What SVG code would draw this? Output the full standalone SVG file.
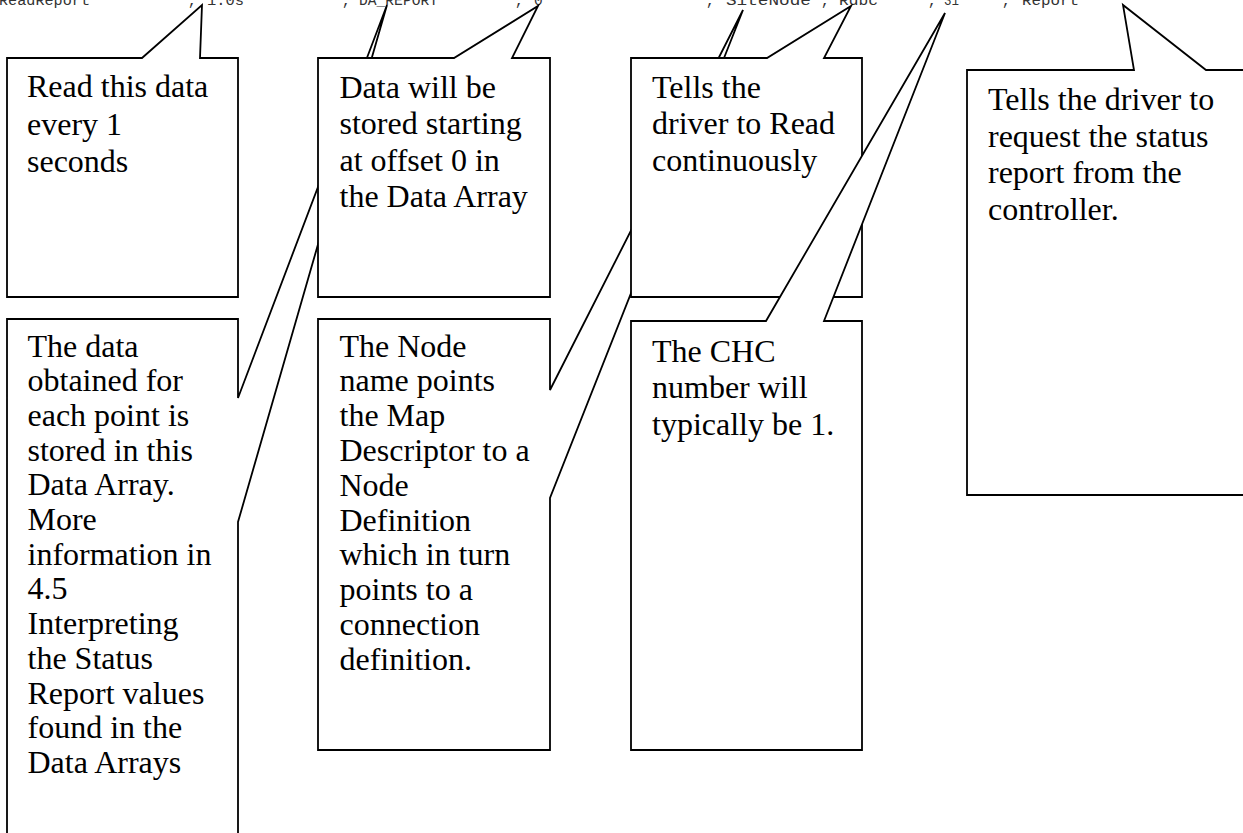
<svg xmlns="http://www.w3.org/2000/svg" width="1243" height="833" viewBox="0 0 1243 833">
<style>
.c{fill:#fff;stroke:#000;stroke-width:1.8;stroke-linejoin:miter}
.t{font-family:"Liberation Serif","Times New Roman",serif;font-size:32px;fill:#000}
.h{font-family:"Liberation Mono","Courier New",monospace;font-size:14.5px;fill:#333}
</style>
<rect width="1243" height="833" fill="#fff"/>
<g id="header">
<text class="h" y="4.5"><tspan x="-1" textLength="91" lengthAdjust="spacingAndGlyphs">ReadReport</tspan><tspan x="188">,</tspan><tspan x="207" textLength="37" lengthAdjust="spacingAndGlyphs">1.0s</tspan><tspan x="342">,</tspan><tspan x="359" textLength="79" lengthAdjust="spacingAndGlyphs">DA_REPORT</tspan><tspan x="515">,</tspan><tspan x="534">0</tspan><tspan x="706">,</tspan><tspan x="726" textLength="85" lengthAdjust="spacingAndGlyphs">SiteNode</tspan><tspan x="821">,</tspan><tspan x="839" textLength="39" lengthAdjust="spacingAndGlyphs">Rdbc</tspan><tspan x="928">,</tspan><tspan x="944" textLength="15" lengthAdjust="spacingAndGlyphs">31</tspan><tspan x="1002">,</tspan><tspan x="1022" textLength="57" lengthAdjust="spacingAndGlyphs">Report</tspan></text>
</g>
<g id="callout-data-array">
<path class="c" d="M7,319 H238 V398 L387,5 L238,522 V845 H7 Z"/>
<text class="t" x="27.5"><tspan x="27.5" y="356.5">The data</tspan><tspan x="27.5" y="391.2">obtained for</tspan><tspan x="27.5" y="425.9">each point is</tspan><tspan x="27.5" y="460.6">stored in this</tspan><tspan x="27.5" y="495.3">Data Array.</tspan><tspan x="27.5" y="530">More</tspan><tspan x="27.5" y="564.7">information in</tspan><tspan x="27.5" y="599.4">4.5</tspan><tspan x="27.5" y="634.1">Interpreting</tspan><tspan x="27.5" y="668.8">the Status</tspan><tspan x="27.5" y="703.5">Report values</tspan><tspan x="27.5" y="738.2">found in the</tspan><tspan x="27.5" y="772.9">Data Arrays</tspan></text>
</g>
<g id="callout-node">
<path class="c" d="M318,319 H550 V390 L743,10 L550,498 V750 H318 Z"/>
<text class="t"><tspan x="339.5" y="356.5">The Node</tspan><tspan x="339.5" y="391.3">name points</tspan><tspan x="339.5" y="426.1">the Map</tspan><tspan x="339.5" y="460.9">Descriptor to a</tspan><tspan x="339.5" y="495.7">Node</tspan><tspan x="339.5" y="530.5">Definition</tspan><tspan x="339.5" y="565.3">which in turn</tspan><tspan x="339.5" y="600.1">points to a</tspan><tspan x="339.5" y="634.9">connection</tspan><tspan x="339.5" y="669.7">definition.</tspan></text>
</g>
<g id="callout-scan">
<path class="c" d="M7,58 H142 L202,5 L200,58 H238 V297 H7 Z"/>
<text class="t"><tspan x="27" y="97">Read this data</tspan><tspan x="27" y="134.5">every 1</tspan><tspan x="27" y="172">seconds</tspan></text>
</g>
<g id="callout-offset">
<path class="c" d="M318,58 H454 L538,6 L512,58 H550 V297 H318 Z"/>
<text class="t"><tspan x="339.5" y="97.5">Data will be</tspan><tspan x="339.5" y="134">stored starting</tspan><tspan x="339.5" y="170.5">at offset 0 in</tspan><tspan x="339.5" y="207">the Data Array</tspan></text>
</g>
<g id="callout-function">
<path class="c" d="M631,58 H767 L851,6 L824,58 H862 V297 H631 Z"/>
<text class="t"><tspan x="652" y="97.5">Tells the</tspan><tspan x="652" y="134">driver to Read</tspan><tspan x="652" y="170.5">continuously</tspan></text>
</g>
<g id="callout-chc">
<path class="c" d="M631,321 H766 L945,13 L824,321 H862 V750 H631 Z"/>
<text class="t"><tspan x="652" y="361.5">The CHC</tspan><tspan x="652" y="398">number will</tspan><tspan x="652" y="434.5">typically be 1.</tspan></text>
</g>
<g id="callout-report">
<path class="c" d="M967,70 H1134 L1123,5 L1206,70 H1252 V495 H967 Z"/>
<text class="t"><tspan x="988" y="110">Tells the driver to</tspan><tspan x="988" y="146.5">request the status</tspan><tspan x="988" y="183">report from the</tspan><tspan x="988" y="219.5">controller.</tspan></text>
</g>
</svg>
